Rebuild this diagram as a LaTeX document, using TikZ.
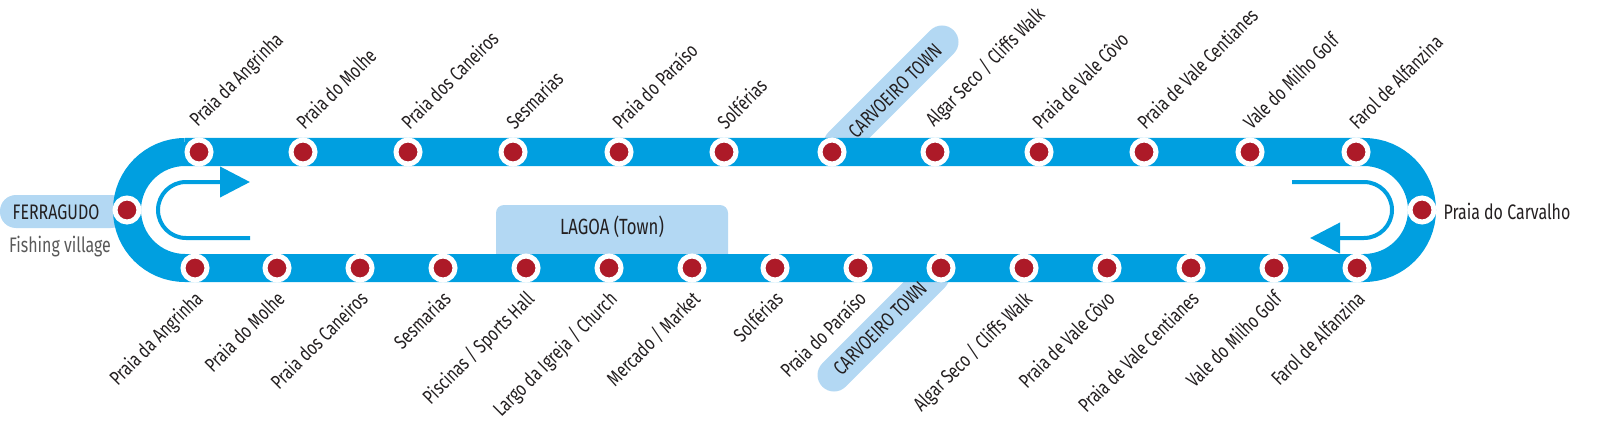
\documentclass[tikz,border=0pt]{standalone}
\usepackage{fontspec}
\setmainfont{Fira Sans}[FakeStretch=0.76]
\usetikzlibrary{arrows.meta}
\definecolor{trk}{HTML}{009FE0}
\definecolor{stn}{HTML}{AD1A28}
\definecolor{hl}{HTML}{B3D8F3}
\definecolor{txt}{HTML}{231F20}
\tikzset{
 stop/.style={circle,fill=stn,draw=white,line width=5pt,minimum size=24pt,inner sep=0pt},
 tl/.style={rotate=45,anchor=south west,inner sep=0pt,font=\fontsize{20}{20}\selectfont,text=txt},
 bl/.style={rotate=45,anchor=north east,inner sep=0pt,font=\fontsize{20}{20}\selectfont,text=txt},
 cl/.style={rotate=45,inner sep=0pt,font=\fontsize{20}{20}\selectfont,text=txt},
 dirarrow/.style={draw=trk,line width=4pt,-{Triangle[length=30pt,width=30pt]}}
}
\begin{document}
\begin{tikzpicture}[x=1pt,y=-1pt]
\useasboundingbox (0,0) rectangle (1600,433);
% highlights
\fill[hl,rounded corners=8pt] (496,262) -- (496,205) -- (728,205) -- (728,262) -- cycle;
\node[font=\fontsize{22}{22}\selectfont,text=txt] (lagoa) at (612,227) {LAGOA (Town)};
\fill[hl,rounded corners=16pt] (127,195) -- (0,195) -- (0,228) -- (127,228) -- cycle;
\draw[hl,line width=33pt,line cap=round] (840,144) -- (942,42);
\draw[hl,line width=33pt,line cap=round] (933,276) -- (834,375);
% track
\draw[trk,line width=28pt] (185,152) -- (1364,152) arc[start angle=-90,end angle=90,radius=58] -- (185,268) arc[start angle=90,end angle=270,radius=58];
% direction arrows
\coordinate (la0) at (250,238); \coordinate (la1) at (250,182);
\draw[dirarrow] (la0) -- (186,238) arc[start angle=90,end angle=270,radius=28] -- (la1);
\coordinate (ra0) at (1292,182); \coordinate (ra1) at (1310,238);
\draw[dirarrow] (ra0) -- (1364,182) arc[start angle=-90,end angle=90,radius=28] -- (ra1);
% end stations
\node[stop] (ferr) at (127,210) {};
\node[stop] (carv) at (1422,210) {};
\node[font=\fontsize{21}{21}\selectfont,text=txt] at (56,212) {FERRAGUDO};
\node[font=\fontsize{21}{21}\selectfont,text=black!65] at (60,247) {Fishing village};
\node[anchor=west,font=\fontsize{21}{21}\selectfont,text=txt] at (1440,211) {Praia do Carvalho};
% top stations
\foreach \x/\t [count=\i] in {199/{Praia da Angrinha},303/{Praia do Molhe},408/{Praia dos Caneiros},513/{Sesmarias},619/{Praia do Paraíso},724/{Solférias},832/{},935/{Algar Seco / Cliffs Walk},1039/{Praia de Vale Côvo},1144/{Praia de Vale Centianes},1250/{Vale do Milho Golf},1356/{Farol de Alfanzina}}{
 \node[stop] (t\i) at (\x,152) {};
 \node[tl] at (\x+2,131) {\t};
}
\node[cl] (carvt) at (895,91) {CARVOEIRO TOWN};
% bottom stations
\foreach \x/\t [count=\i] in {195/{Praia da Angrinha},277/{Praia do Molhe},360/{Praia dos Caneiros},443/{Sesmarias},526/{Piscinas / Sports Hall},609/{Largo da Igreja / Church},692/{Mercado / Market},775/{Solférias},858/{Praia do Paraíso},941/{},1024/{Algar Seco / Cliffs Walk},1107/{Praia de Vale Côvo},1191/{Praia de Vale Centianes},1274/{Vale do Milho Golf},1357/{Farol de Alfanzina}}{
 \node[stop] (b\i) at (\x,268) {};
 \node[bl] at (\x-2,289) {\t};
}
\node[cl] (carvb) at (880,328) {CARVOEIRO TOWN};
\end{tikzpicture}
\end{document}
